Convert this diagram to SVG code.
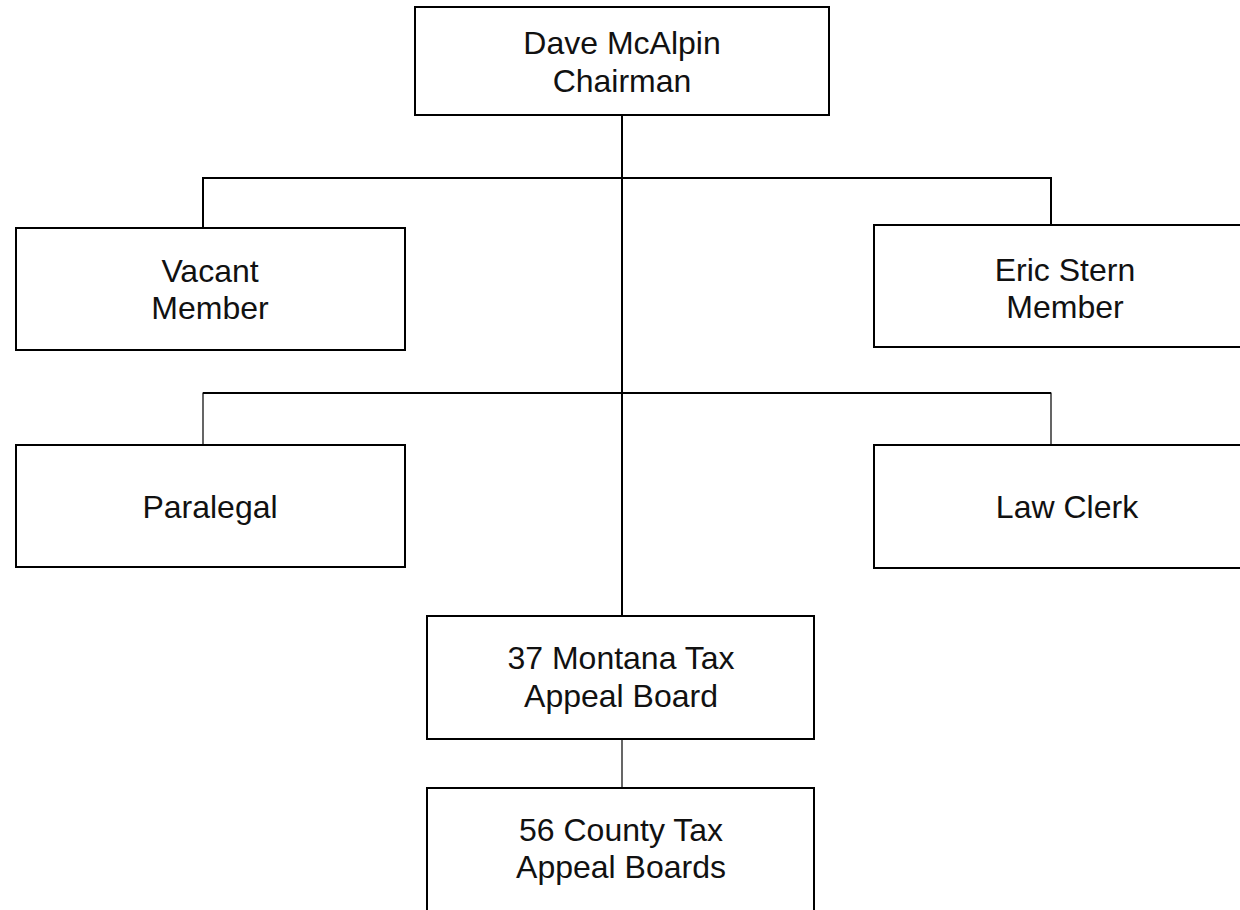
<svg xmlns="http://www.w3.org/2000/svg" width="1240" height="910" viewBox="0 0 1240 910">
<style>
.box{fill:#fff;stroke:#000;stroke-width:2}
.t{font-family:"Liberation Sans",Arial,sans-serif;font-size:32px;fill:#111;text-anchor:middle}
.c{fill:none;stroke:#000;stroke-width:2}
.c1{fill:none;stroke:#000;stroke-width:1.2}
</style>
<rect width="1240" height="910" fill="#fff"/>
<g id="connectors">
<line class="c" x1="622" y1="115" x2="622" y2="616"/>
<polyline class="c" points="203,228 203,178 1051,178 1051,225"/>
<polyline class="c1" points="203,445 203,393 1051,393 1051,445"/>
<line class="c" x1="203" y1="393" x2="1051" y2="393"/>
<line class="c1" x1="622" y1="739" x2="622" y2="788"/>
</g>
<g id="chairman">
<rect class="box" x="415" y="7" width="414" height="108"/>
<text class="t" x="622" y="54">Dave McAlpin</text>
<text class="t" x="622" y="92">Chairman</text>
</g>
<g id="vacant">
<rect class="box" x="16" y="228" width="389" height="122"/>
<text class="t" x="210" y="282">Vacant</text>
<text class="t" x="210" y="319">Member</text>
</g>
<g id="eric">
<rect class="box" x="874" y="225" width="389" height="122"/>
<text class="t" x="1065" y="281">Eric Stern</text>
<text class="t" x="1065" y="318">Member</text>
</g>
<g id="paralegal">
<rect class="box" x="16" y="445" width="389" height="122"/>
<text class="t" x="210" y="518">Paralegal</text>
</g>
<g id="lawclerk">
<rect class="box" x="874" y="445" width="389" height="123"/>
<text class="t" x="1067" y="518">Law Clerk</text>
</g>
<g id="montana">
<rect class="box" x="427" y="616" width="387" height="123"/>
<text class="t" x="621" y="669">37 Montana Tax</text>
<text class="t" x="621" y="707">Appeal Board</text>
</g>
<g id="county">
<rect class="box" x="427" y="788" width="387" height="140"/>
<text class="t" x="621" y="841">56 County Tax</text>
<text class="t" x="621" y="878">Appeal Boards</text>
</g>
</svg>
